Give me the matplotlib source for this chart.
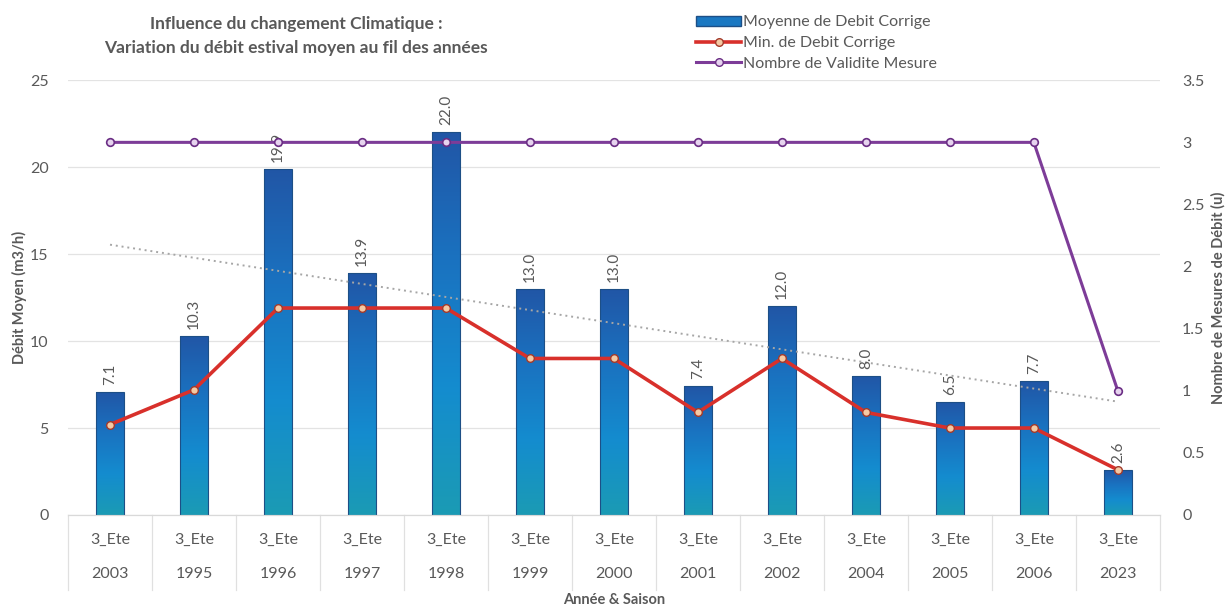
import numpy as np
import matplotlib.pyplot as plt
from matplotlib.colors import LinearSegmentedColormap
from matplotlib.patches import Patch
from matplotlib.lines import Line2D
import matplotlib.transforms as mtransforms

plt.rcParams['font.family'] = ['Lato', 'DejaVu Sans']

###################################################
# Data
###################################################

saisons = ["3_Ete"] * 13
annees = ["2003", "1995", "1996", "1997", "1998", "1999", "2000",
          "2001", "2002", "2004", "2005", "2006", "2023"]

moyenne_debit = [7.1, 10.3, 19.9, 13.9, 22.0, 13.0, 13.0,
                 7.4, 12.0, 8.0, 6.5, 7.7, 2.6]
min_debit = [5.2, 7.2, 11.9, 11.9, 11.9, 9.0, 9.0,
             5.9, 9.0, 5.9, 5.0, 5.0, 2.6]
nb_validite = [3, 3, 3, 3, 3, 3, 3, 3, 3, 3, 3, 3, 1]

GREY = "#595959"
RED = "#d8302b"
PURPLE = "#7d3c98"

x = np.arange(len(annees))

fig = plt.figure(figsize=(12.26, 6.08), dpi=100)
ax = fig.add_axes([0.0555, 0.153, 0.8905, 0.715])
ax2 = ax.twinx()

###################################################
# Bars with vertical gradient
###################################################

bar_cmap = LinearSegmentedColormap.from_list(
    "bar_grad",
    ["#1b9bb4", "#148ccf", "#1a72c0", "#2156a6"]
)
grad = np.linspace(0, 1, 256).reshape(-1, 1)

bars = ax.bar(
    x,
    moyenne_debit,
    width=0.33,
    facecolor="none",
    edgecolor="#1d4f86",
    linewidth=0.8,
    zorder=3
)

for b in bars:
    x0 = b.get_x()
    w = b.get_width()
    h = b.get_height()
    img = ax.imshow(
        grad,
        extent=[x0, x0 + w, 0, h],
        origin="lower",
        aspect="auto",
        cmap=bar_cmap,
        zorder=2
    )
    img.set_clip_path(b)

for xi, v in zip(x, moyenne_debit):
    ax.annotate(
        f"{v:.1f}",
        (xi, v),
        xytext=(0, 5),
        textcoords="offset points",
        rotation=90,
        ha="center",
        va="bottom",
        fontsize=11,
        color=GREY,
        zorder=6
    )

###################################################
# Lines
###################################################

coef = np.polyfit(x, moyenne_debit, 1)
ax.plot(
    x,
    np.polyval(coef, x),
    linestyle=(0, (1, 2)),
    color="#a6a6a6",
    linewidth=1.4,
    zorder=4
)

ax.plot(
    x,
    min_debit,
    color=RED,
    linewidth=2.6,
    marker="o",
    markersize=5.5,
    markerfacecolor="#f4c9a4",
    markeredgecolor="#a33a2a",
    markeredgewidth=1,
    zorder=5
)

ax2.plot(
    x,
    nb_validite,
    color=PURPLE,
    linewidth=2.2,
    marker="o",
    markersize=5.5,
    markerfacecolor="#e6d3ee",
    markeredgecolor="#6a2d84",
    markeredgewidth=1.2,
    zorder=5
)

###################################################
# Axes
###################################################

ax.set_xlim(-0.5, len(annees) - 0.5)
ax.set_ylim(0, 25)
ax.set_yticks(np.arange(0, 26, 5))
ax2.set_ylim(0, 3.5)
ax2.set_yticks(np.arange(0, 3.6, 0.5))
ax2.set_yticklabels([f"{t:g}" for t in np.arange(0, 3.6, 0.5)])

ax.grid(axis="y", color="#e3e3e3", linewidth=0.9, zorder=0)
ax.set_axisbelow(True)

for a in (ax, ax2):
    for side in ("top", "left", "right"):
        a.spines[side].set_visible(False)
    a.spines["bottom"].set_color("#d9d9d9")
    a.tick_params(axis="y", length=0, labelsize=11.5, labelcolor=GREY)

ax.tick_params(axis="y", pad=14)
ax2.tick_params(axis="y", pad=16)
ax.set_xticks([])

ax.set_ylabel("Débit Moyen (m3/h)", fontsize=10.5, fontweight="bold",
              color=GREY)
ax2.set_ylabel("Nombre de Mesures de Débit (u)", fontsize=10.5,
               fontweight="bold", color=GREY)
ax.yaxis.set_label_coords(-0.038, 0.5)
ax2.yaxis.set_label_coords(1.047, 0.5)

# two-level category labels with separators
trans = mtransforms.blended_transform_factory(ax.transData, ax.transAxes)
for xi, s, yr in zip(x, saisons, annees):
    ax.text(xi, -0.057, s, transform=trans, ha="center", va="center",
            fontsize=11.5, color=GREY)
    ax.text(xi, -0.135, yr, transform=trans, ha="center", va="center",
            fontsize=11.5, color=GREY)

for xb in np.arange(-0.5, len(annees), 1.0):
    ax.plot([xb, xb], [0, -0.172], transform=trans, color="#e0e0e0",
            linewidth=0.9, clip_on=False)

ax.text(0.5, -0.195, "Année & Saison", transform=ax.transAxes,
        ha="center", va="center", fontsize=10.5, fontweight="bold",
        color=GREY)

###################################################
# Title and legend
###################################################

fig.text(
    296 / 1226,
    1 - 36 / 608,
    "Influence du changement Climatique :\n"
    "Variation du débit estival moyen au fil des années",
    ha="center",
    va="center",
    fontsize=12.5,
    fontweight="bold",
    color=GREY,
    linespacing=1.6
)

handles = [
    Patch(facecolor="#1a78c2", edgecolor="#1d4f86"),
    Line2D([], [], color=RED, linewidth=2.6, marker="o", markersize=5.5,
           markerfacecolor="#f4c9a4", markeredgecolor="#a33a2a"),
    Line2D([], [], color=PURPLE, linewidth=2.2, marker="o", markersize=5.5,
           markerfacecolor="#e6d3ee", markeredgecolor="#6a2d84"),
]
labels = [
    "Moyenne de Debit Corrige",
    "Min. de Debit Corrige",
    "Nombre de Validite Mesure",
]
leg = fig.legend(
    handles,
    labels,
    loc="upper left",
    bbox_to_anchor=(682 / 1226, 1 - 1 / 608),
    frameon=False,
    fontsize=11.5,
    handlelength=2.8,
    handleheight=0.6,
    handletextpad=0.15,
    labelspacing=0.42
)
for t in leg.get_texts():
    t.set_color(GREY)

fig.savefig("out.png", dpi=100, facecolor="white")
